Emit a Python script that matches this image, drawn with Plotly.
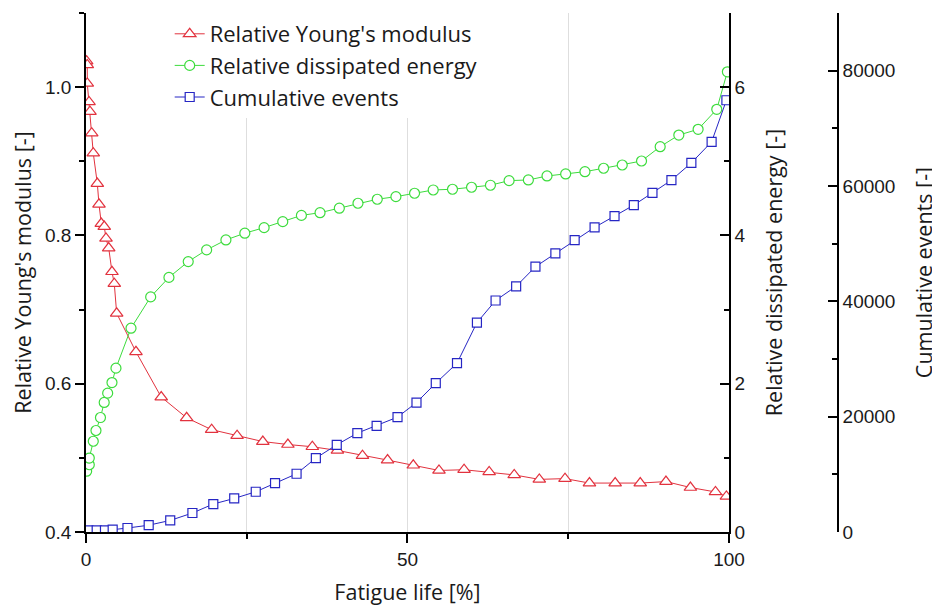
import plotly.graph_objects as go

# ---- data ----
life_E = [0.1, 0.2, 0.2, 0.47, 0.62, 0.89, 1.13, 1.76, 2.02, 2.38, 2.84, 3.11, 3.53, 4.04, 4.40, 4.77,
          7.77, 11.7, 15.65, 19.54, 23.5, 27.5, 31.4, 35.2, 39.1, 43.0, 46.9, 50.9, 54.9, 58.8,
          62.7, 66.6, 70.5, 74.5, 78.3, 82.3, 86.2, 90.2, 94.0, 97.9, 99.6]
E_rel = [1.035, 1.030, 1.005, 0.980, 0.967, 0.938, 0.911, 0.870, 0.842, 0.816, 0.812, 0.796, 0.783, 0.751, 0.735, 0.695,
         0.643, 0.582, 0.554, 0.538, 0.530, 0.522, 0.518, 0.515, 0.510, 0.503, 0.497, 0.490, 0.483, 0.484,
         0.481, 0.477, 0.471, 0.472, 0.466, 0.466, 0.466, 0.468, 0.460, 0.454, 0.448]

life_W = [0.1, 0.51, 0.51, 1.13, 1.55, 2.25, 2.83, 3.37, 4.04, 4.66, 7.0, 10.06, 12.9, 15.9, 18.76, 21.76,
          24.7, 27.7, 30.6, 33.5, 36.4, 39.4, 42.3, 45.3, 48.2, 51.1, 54.0, 57.0, 59.96, 62.9,
          65.8, 68.8, 71.7, 74.6, 77.6, 80.5, 83.4, 86.4, 89.3, 92.2, 95.2, 98.1, 99.75]
W_rel = [0.82, 0.907, 0.997, 1.224, 1.369, 1.544, 1.747, 1.873, 2.016, 2.210, 2.749, 3.171, 3.434, 3.647, 3.805, 3.939,
         4.030, 4.105, 4.186, 4.270, 4.307, 4.367, 4.434, 4.488, 4.523, 4.569, 4.613, 4.623, 4.650, 4.677,
         4.739, 4.748, 4.802, 4.829, 4.860, 4.906, 4.950, 5.004, 5.197, 5.354, 5.431, 5.701, 6.207]

life_N = [0.36, 1.66, 2.95, 4.15, 6.45, 9.75, 13.1, 16.55, 19.8, 23.05, 26.4, 29.4, 32.75, 35.75, 39.0,
          42.2, 45.2, 48.45, 51.4, 54.4, 57.7, 60.8, 63.7, 66.9, 69.9, 73.0, 76.0, 79.1, 82.2,
          85.2, 88.1, 91.05, 94.15, 97.3, 99.6]
N_cum = [277, 277, 277, 398, 693, 1178, 2009, 3291, 4850, 5820, 6980, 8487, 10098, 12817, 15120,
         17147, 18411, 19918, 22447, 25807, 29271, 36303, 40148, 42607, 46002, 48323, 50626, 52826, 54783,
         56688, 58819, 61018, 64015, 67652, 74874]

x_ticks = [0, 50, 100]

RED = "#e2323e"
GREEN = "#3ddc3d"
BLUE = "#2626c4"
TICKFONT = dict(family="Liberation Sans, Arial, sans-serif", size=19, color="#1a1a1a")
TITLEFONT = dict(family="Open Sans, sans-serif", size=21.5, color="#1a1a1a")
GRID = "#dedede"

fig = go.Figure()
fig.add_trace(go.Scatter(
    x=life_E, y=E_rel, name="Relative Young's modulus", mode="lines+markers",
    line=dict(color=RED, width=1),
    marker=dict(symbol="triangle-up", size=11, color="white", line=dict(color=RED, width=1.2)),
    yaxis="y"))
fig.add_trace(go.Scatter(
    x=life_W, y=W_rel, name="Relative dissipated energy", mode="lines+markers",
    line=dict(color=GREEN, width=1),
    marker=dict(symbol="circle", size=10, color="white", line=dict(color=GREEN, width=1.2)),
    yaxis="y2"))
fig.add_trace(go.Scatter(
    x=life_N, y=N_cum, name="Cumulative events", mode="lines+markers",
    line=dict(color=BLUE, width=1),
    marker=dict(symbol="square", size=9, color="white", line=dict(color=BLUE, width=1.2)),
    yaxis="y3"))

axis_common = dict(showline=True, linecolor="black", linewidth=1.5, zeroline=False,
                   tickcolor="black", tickwidth=1.5, ticklen=9, tickfont=TICKFONT,
                   automargin=False)

fig.update_layout(
    width=932, height=601,
    margin=dict(l=78, r=0, t=5, b=77),
    paper_bgcolor="white", plot_bgcolor="white",
    showlegend=True,
    legend=dict(x=0.098, y=1.0, xanchor="left", yanchor="top",
                bgcolor="rgba(255,255,255,1)", borderwidth=0,
                font=dict(family="Open Sans, sans-serif", size=22, color="#1a1a1a")),
    xaxis=dict(domain=[0, 0.7529], range=[0, 100], tickvals=x_ticks, ticks="outside",
               showgrid=True, gridcolor=GRID, gridwidth=1,
               minor=dict(dtick=25, tick0=0, ticks="outside", ticklen=5, tickcolor="black",
                          tickwidth=1.5, showgrid=True, gridcolor=GRID, gridwidth=1),
               title=dict(text="Fatigue life [%]", font=TITLEFONT, standoff=16),
               **axis_common),
    yaxis=dict(range=[0.4, 1.1], dtick=0.2, tick0=0.4, tickformat=".1f", ticks="outside",
               showgrid=False,
               minor=dict(dtick=0.1, tick0=0.4, ticks="outside", ticklen=5, tickcolor="black", tickwidth=1.5),
               title=dict(text="Relative Young's modulus [-]", font=TITLEFONT, standoff=8),
               **axis_common),
    yaxis2=dict(range=[0, 7], dtick=2, tick0=0, overlaying="y", side="right", anchor="x",
                ticks="inside", showgrid=False,
                minor=dict(dtick=1, tick0=0, ticks="inside", ticklen=5, tickcolor="black", tickwidth=1.5),
                title=dict(text="Relative dissipated energy [-]", font=TITLEFONT, standoff=22),
                **axis_common),
    yaxis3=dict(range=[0, 90000], dtick=20000, tick0=0, tickformat="d", overlaying="y", side="right",
                anchor="free", position=0.8806, ticks="inside", showgrid=False,
                minor=dict(dtick=10000, tick0=0, ticks="inside", ticklen=5, tickcolor="black", tickwidth=1.5),
                title=dict(text="Cumulative events [-]", font=TITLEFONT, standoff=22),
                **axis_common),
)

fig.write_html("out.html")
